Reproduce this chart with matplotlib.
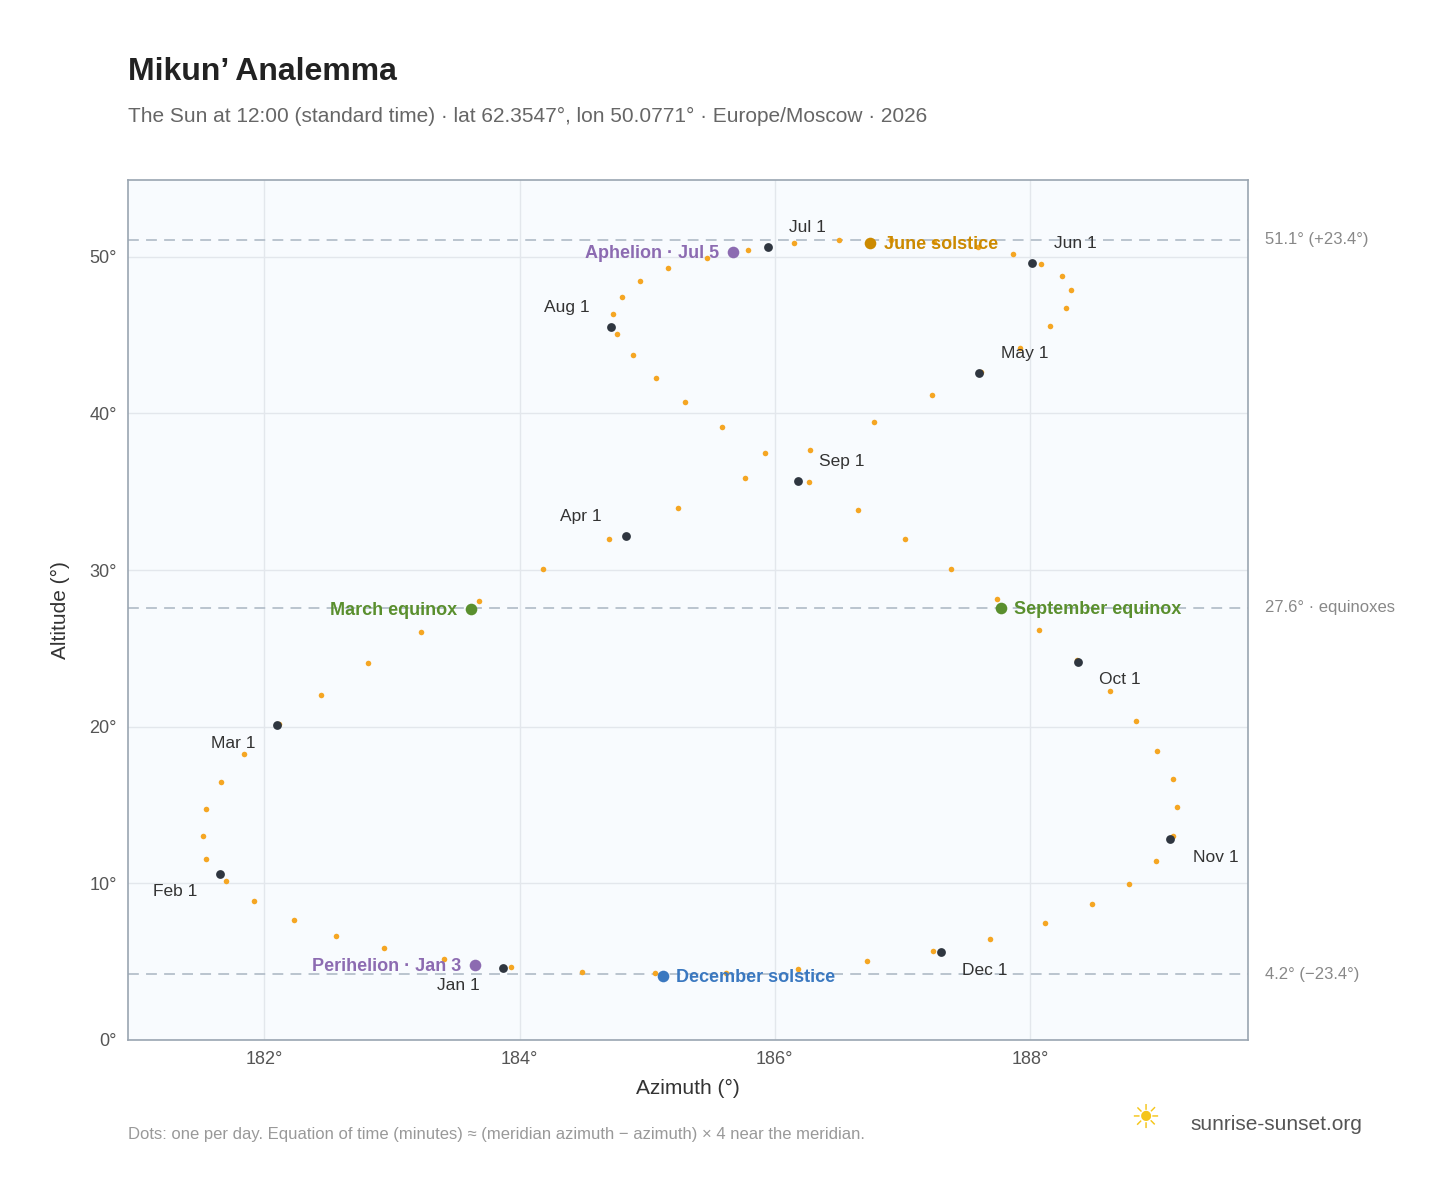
import matplotlib
matplotlib.use("Agg")
import matplotlib.pyplot as plt

plt.rcParams["font.family"] = ["Liberation Sans", "DejaVu Sans"]

# Sun position at 12:00, sampled every 5 days from Jan 1 (estimated from the chart)
azimuth = [183.93, 183.41, 182.94, 182.56, 182.23, 181.92, 181.70, 181.54, 181.52, 181.54,
           181.66, 181.84, 182.11, 182.44, 182.81, 183.23, 183.68, 184.18, 184.70, 185.24,
           185.77, 186.28, 186.78, 187.23, 187.62, 187.92, 188.16, 188.28, 188.32, 188.25,
           188.09, 187.87, 187.59, 187.25, 186.91, 186.50, 186.15, 185.79, 185.47, 185.16,
           184.94, 184.80, 184.73, 184.76, 184.89, 185.07, 185.30, 185.59, 185.92, 186.27,
           186.65, 187.02, 187.38, 187.74, 188.07, 188.37, 188.63, 188.83, 189.00, 189.12,
           189.15, 189.12, 188.99, 188.78, 188.49, 188.12, 187.69, 187.24, 186.72, 186.18,
           185.62, 185.06, 184.49]
altitude = [4.65, 5.15, 5.85, 6.65, 7.65, 8.85, 10.15, 11.55, 13.05, 14.75,
            16.45, 18.25, 20.15, 22.05, 24.05, 26.05, 28.05, 30.05, 31.95, 33.95,
            35.85, 37.65, 39.45, 41.15, 42.65, 44.15, 45.55, 46.75, 47.85, 48.75,
            49.55, 50.15, 50.65, 50.95, 51.05, 51.05, 50.85, 50.45, 49.95, 49.25,
            48.45, 47.45, 46.35, 45.05, 43.75, 42.25, 40.75, 39.15, 37.45, 35.65,
            33.85, 31.95, 30.05, 28.15, 26.15, 24.25, 22.25, 20.35, 18.45, 16.65,
            14.85, 13.05, 11.45, 9.95, 8.65, 7.45, 6.45, 5.65, 5.05, 4.55,
            4.25, 4.25, 4.35]

month_labels = ["Jan 1", "Feb 1", "Mar 1", "Apr 1", "May 1", "Jun 1",
                "Jul 1", "Aug 1", "Sep 1", "Oct 1", "Nov 1", "Dec 1"]
month_az = [183.87, 181.65, 182.10, 184.83, 187.60, 188.02,
            185.95, 184.72, 186.18, 188.38, 189.10, 187.30]
month_alt = [4.6, 10.6, 20.1, 32.2, 42.6, 49.6, 50.6, 45.5, 35.7, 24.1, 12.8, 5.6]
month_off = [(-32, -13), (-32, -13), (-32, -13), (-32, 14), (33, 14), (31, 14),
             (28, 14), (-32, 14), (32, 14), (30, -12), (33, -13), (32, -13)]

event_labels = ["Perihelion · Jan 3", "December solstice", "March equinox",
                "September equinox", "June solstice", "Aphelion · Jul 5"]
event_az = [183.65, 185.12, 183.62, 187.77, 186.75, 185.67]
event_alt = [4.8, 4.1, 27.5, 27.6, 50.9, 50.3]
event_colors = ["#8c6bb1", "#3a78c0", "#5a8f2e", "#5a8f2e", "#cc8a00", "#8c6bb1"]
event_side = ["left", "right", "left", "right", "right", "left"]

ref_lines = [51.1, 27.6, 4.2]
ref_labels = ["51.1° (+23.4°)", "27.6° · equinoxes", "4.2° (−23.4°)"]

fig = plt.figure(figsize=(14.48, 11.88), dpi=100)
ax = fig.add_axes([0.0884, 0.1246, 0.7735, 0.7239])
ax.set_facecolor("#f8fbfe")
ax.set_xlim(180.93, 189.71)
ax.set_ylim(0, 54.9)
ax.set_xticks([182, 184, 186, 188])
ax.set_xticklabels(["182°", "184°", "186°", "188°"])
ax.set_yticks([0, 10, 20, 30, 40, 50])
ax.set_yticklabels(["0°", "10°", "20°", "30°", "40°", "50°"])
ax.grid(color="#e3e7ec", linewidth=1)
ax.set_axisbelow(True)
for s in ax.spines.values():
    s.set_color("#9aa5b1")
    s.set_linewidth(1.2)
ax.tick_params(colors="#555", labelsize=13, length=0, pad=8)

for y, lab in zip(ref_lines, ref_labels):
    ax.axhline(y, color="#b5c0cb", linestyle=(0, (6, 4)), linewidth=1.3, zorder=1)
    ax.annotate(lab, xy=(1, y), xycoords=("axes fraction", "data"), xytext=(12, 0),
                textcoords="offset points", va="center", fontsize=12, color="#888",
                annotation_clip=False)

ax.scatter(azimuth, altitude, s=16, color="#f5a623", zorder=3, linewidths=0)

ax.scatter(month_az, month_alt, s=40, color="#2f3640", zorder=5, linewidths=0)
for lab, x, y, (dx, dy) in zip(month_labels, month_az, month_alt, month_off):
    ax.annotate(lab, (x, y), xytext=(dx, dy), textcoords="offset points",
                ha="center", va="center", fontsize=12.5, color="#333", zorder=6)

for lab, x, y, c, side in zip(event_labels, event_az, event_alt, event_colors, event_side):
    ax.scatter([x], [y], s=70, color=c, zorder=6, linewidths=0)
    dx = -10 if side == "left" else 10
    ax.annotate(lab, (x, y), xytext=(dx, -1), textcoords="offset points",
                ha="right" if side == "left" else "left", va="center",
                fontsize=13, fontweight="bold", color=c, zorder=7)

ax.set_xlabel("Azimuth (°)", fontsize=15, color="#333", labelpad=8)
ax.set_ylabel("Altitude (°)", fontsize=15, color="#333", labelpad=14)

fig.text(128 / 1448, 1 - 72 / 1188, "Mikun’ Analemma", fontsize=23, fontweight="bold",
         color="#222", va="center")
fig.text(128 / 1448, 1 - 116 / 1188,
         "The Sun at 12:00 (standard time) · lat 62.3547°, lon 50.0771° · Europe/Moscow · 2026",
         fontsize=15, color="#666", va="center")
fig.text(128 / 1448, 1 - 1134 / 1188,
         "Dots: one per day. Equation of time (minutes) ≈ (meridian azimuth − azimuth) × 4 near the meridian.",
         fontsize=12, color="#999", va="center")
fig.text(1190 / 1448, 1 - 1125 / 1188, "sunrise-sunset.org", fontsize=15, color="#555",
         va="center")
fig.text(1145 / 1448, 1 - 1120 / 1188, "☀", fontsize=24, color="#f5c518",
         ha="center", va="center")

fig.savefig("out.png", dpi=100)
